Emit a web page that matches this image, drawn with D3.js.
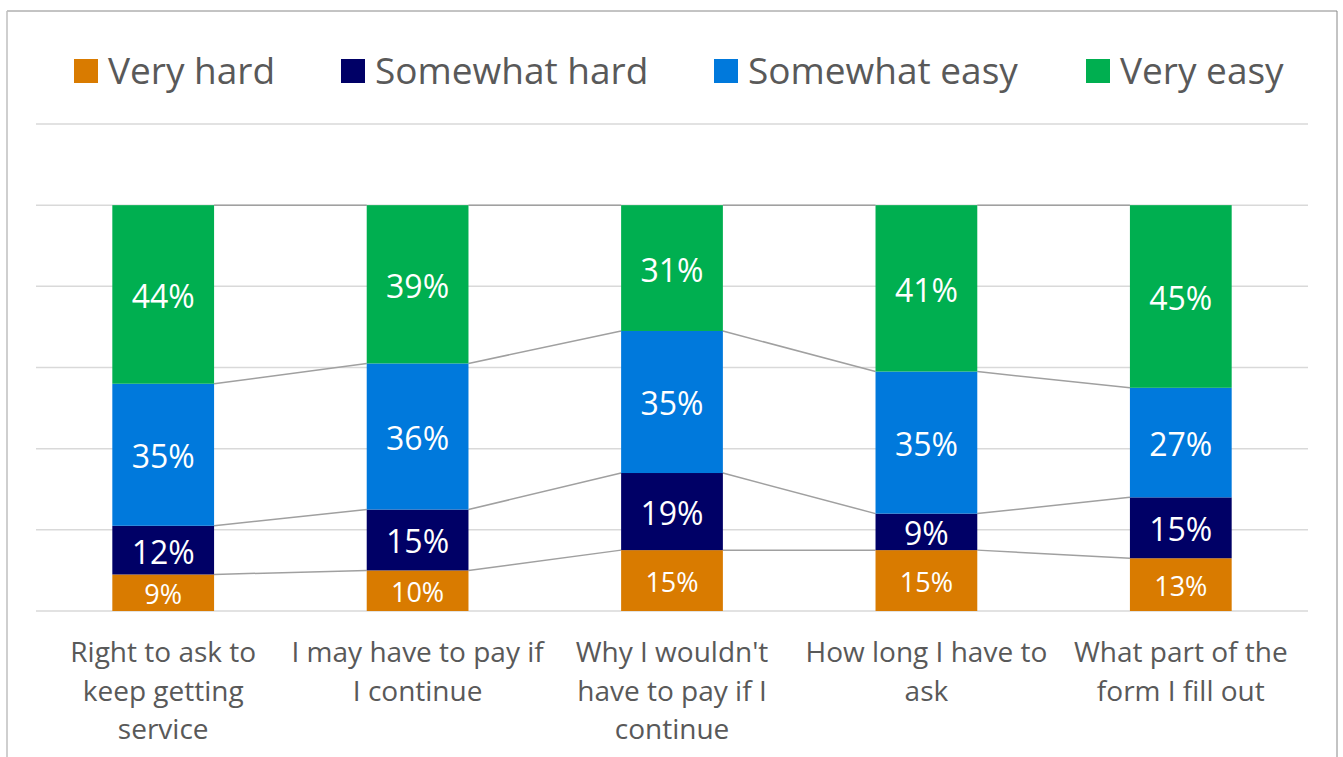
<!DOCTYPE html>
<html>
<head>
<meta charset="utf-8">
<script src="https://cdn.jsdelivr.net/npm/d3@7"></script>
<style>
  body { margin: 0; background: #fff; }
  svg text { font-family: "Open Sans", sans-serif; }
</style>
</head>
<body>
<svg id="grafico" width="1343" height="757"></svg>
<script>
const categorias = [
  "Right to ask to\nkeep getting\nservice",
  "I may have to pay if\nI continue",
  "Why I wouldn't\nhave to pay if I\ncontinue",
  "How long I have to\nask",
  "What part of the\nform I fill out"
];
const series = ["Very hard", "Somewhat hard", "Somewhat easy", "Very easy"];
const veryHard     = [9, 10, 15, 15, 13];
const somewhatHard = [12, 15, 19, 9, 15];
const somewhatEasy = [35, 36, 35, 35, 27];
const veryEasy     = [44, 39, 31, 41, 45];
const colores = ["#D97B00", "#000066", "#0079DC", "#00AF50"];
const yTicks = [0, 20, 40, 60, 80, 100, 120];

const svg = d3.select("#grafico");

// borde del grafico
svg.append("line").attr("x1", 7).attr("x2", 1337).attr("y1", 11).attr("y2", 11).attr("stroke", "#888");
svg.append("line").attr("x1", 1337).attr("x2", 1337).attr("y1", 11).attr("y2", 757).attr("stroke", "#888");
svg.append("line").attr("x1", 7).attr("x2", 7).attr("y1", 11).attr("y2", 757).attr("stroke", "#bfbfbf").attr("stroke-width", 1.5);

const tabla = categorias.map((c, i) => ({
  cat: c,
  "Very hard": veryHard[i],
  "Somewhat hard": somewhatHard[i],
  "Somewhat easy": somewhatEasy[i],
  "Very easy": veryEasy[i]
}));
const apilado = d3.stack().keys(series)(tabla);

const x = d3.scaleBand()
  .domain(categorias)
  .range([36, 1308])
  .paddingInner(0.6)
  .paddingOuter(0.3);

const y = d3.scaleLinear()
  .domain([0, 120])
  .range([611, 124]);

// lineas de cuadricula
svg.append("g").selectAll("line")
  .data(yTicks)
  .join("line")
  .attr("x1", 36).attr("x2", 1308)
  .attr("y1", d => y(d)).attr("y2", d => y(d))
  .attr("stroke", "#d9d9d9")
  .attr("stroke-width", 1.5);

// lineas de serie
const lineasSerie = svg.append("g");
apilado.forEach(s => {
  for (let i = 0; i < s.length - 1; i++) {
    lineasSerie.append("line")
      .attr("x1", x(categorias[i]) + x.bandwidth())
      .attr("x2", x(categorias[i + 1]))
      .attr("y1", y(s[i][1]))
      .attr("y2", y(s[i + 1][1]))
      .attr("stroke", "#a0a0a0")
      .attr("stroke-width", 1.5);
  }
});

// barras
const grupos = svg.append("g").selectAll("g")
  .data(apilado)
  .join("g")
  .attr("fill", (d, i) => colores[i]);

grupos.selectAll("rect")
  .data(d => d)
  .join("rect")
  .attr("x", d => x(d.data.cat))
  .attr("y", d => y(d[1]))
  .attr("width", x.bandwidth())
  .attr("height", d => y(d[0]) - y(d[1]));

// etiquetas de datos
apilado.forEach((s, k) => {
  svg.append("g").selectAll("text")
    .data(s)
    .join("text")
    .attr("x", d => x(d.data.cat) + x.bandwidth() / 2)
    .attr("y", d => y((d[0] + d[1]) / 2))
    .attr("dy", "0.42em")
    .attr("text-anchor", "middle")
    .attr("fill", "#fff")
    .attr("font-size", k === 0 ? 27 : 32)
    .text(d => (d[1] - d[0]) + "%");
});

// eje x
const ejeX = svg.append("g")
  .attr("transform", "translate(0,611)")
  .call(d3.axisBottom(x).tickSize(0));
ejeX.select(".domain").remove();
ejeX.selectAll("text").each(function(d) {
  const t = d3.select(this).text(null)
    .attr("y", 0).attr("dy", null)
    .attr("fill", "#595959")
    .attr("font-size", 28)
    .attr("font-family", "Open Sans, sans-serif");
  d.split("\n").forEach((linea, i) => {
    t.append("tspan").attr("x", 0).attr("y", 51 + i * 38.5).text(linea);
  });
});

// leyenda
const leyendaX = [74, 341, 714, 1086];
const leyenda = svg.append("g").selectAll("g")
  .data(series)
  .join("g")
  .attr("transform", (d, i) => `translate(${leyendaX[i]},59)`);
leyenda.append("rect").attr("width", 24).attr("height", 24).attr("fill", (d, i) => colores[i]);
leyenda.append("text")
  .attr("x", 34).attr("y", 12).attr("dy", "0.35em")
  .attr("fill", "#595959")
  .attr("font-size", 37)
  .text(d => d);
</script>
</body>
</html>
